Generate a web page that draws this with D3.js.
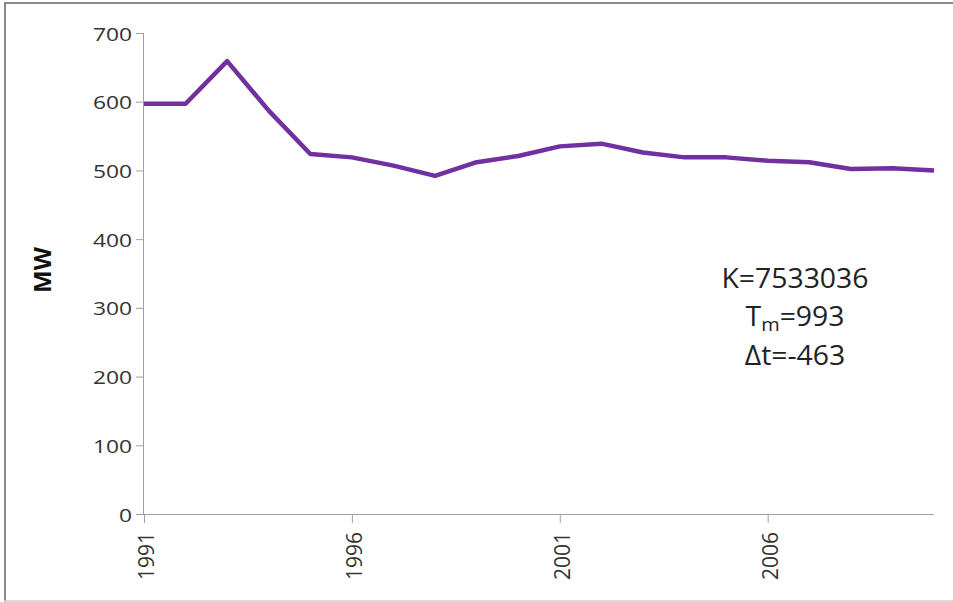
<!DOCTYPE html>
<html><head><meta charset="utf-8">
<script src="https://cdn.jsdelivr.net/npm/d3@7"></script>
<style>
html,body{margin:0;padding:0;background:#fff;}
svg{display:block;}
</style></head>
<body>
<svg id="c" width="953" height="602"></svg>
<script>
const years = [1991,1992,1993,1994,1995,1996,1997,1998,1999,2000,2001,2002,2003,2004,2005,2006,2007,2008,2009,2010];
const values = [597,597,659,587,524,519,507,492,512,521,535,539,526,519,519,514,512,502,503,500];
const yTicks = [0,100,200,300,400,500,600,700];
const xTicks = [1991,1996,2001,2006];
const notes = ["K=7533036","T_m=993","Δt=-463"];
const yLabel = "MW";

const FONT = "'Open Sans', Lato, sans-serif";
const svg = d3.select("#c").attr("font-family", FONT);
const mLeft = 144, mRight = 934, mTop = 33, mBottom = 514;

// frame
svg.append("line").attr("x1",4).attr("x2",953).attr("y1",3).attr("y2",3).attr("stroke","#8a8a8a").attr("stroke-width",2);
svg.append("line").attr("x1",5).attr("x2",5).attr("y1",3).attr("y2",602).attr("stroke","#8a8a8a").attr("stroke-width",2);
svg.append("line").attr("x1",4).attr("x2",953).attr("y1",601).attr("y2",601).attr("stroke","#d0d0d0").attr("stroke-width",1.5);

const x = d3.scaleLinear().domain([1991,2010]).range([mLeft,mRight]);
const y = d3.scaleLinear().domain([0,700]).range([mBottom,mTop]);

const yAxis = svg.append("g").attr("transform",`translate(${mLeft},0)`)
  .call(d3.axisLeft(y).tickValues(yTicks).tickSize(8).tickFormat(d3.format("d")));
yAxis.attr("font-family", FONT);
yAxis.select(".domain").attr("stroke","#a0a0a0").attr("d",`M-0.5,${mTop}V${mBottom}`);
yAxis.selectAll(".tick line").attr("stroke","#a0a0a0");
yAxis.selectAll("text").attr("font-size",19).attr("fill","#333")
  .attr("x",0).attr("dy","0.37em").attr("text-anchor","end")
  .attr("transform","translate(-12,0) scale(1.2,1)");

const xAxis = svg.append("g").attr("transform",`translate(0,${mBottom})`)
  .call(d3.axisBottom(x).tickValues(xTicks).tickSize(9).tickFormat(d3.format("d")));
xAxis.attr("font-family", FONT);
xAxis.select(".domain").attr("stroke","#a0a0a0").attr("d",`M${mLeft},0.5H${mRight}`);
xAxis.selectAll(".tick line").attr("stroke","#a0a0a0");
xAxis.selectAll("text").attr("font-size",21).attr("fill","#333")
  .attr("transform","translate(2,0) rotate(-90)").attr("text-anchor","end")
  .attr("dy","0.36em").attr("x",-18).attr("y",0);

svg.append("text").attr("transform","translate(42,270) rotate(-90)").attr("text-anchor","middle")
  .attr("dy","0.36em").attr("font-size",24).attr("font-weight","bold").attr("fill","#111").text(yLabel);

const line = d3.line().x((d,i)=>x(years[i])).y(d=>y(d));
svg.append("path").datum(values).attr("d",line).attr("fill","none")
  .attr("stroke","#7030A0").attr("stroke-width",4.5).attr("stroke-linejoin","round");

const cx = 795;
const ny = [288,326,365];
notes.forEach((n,i)=>{
  const t = svg.append("text").attr("x",0).attr("y",0)
    .attr("transform",`translate(${cx},${ny[i]}) scale(1.05,1)`)
    .attr("text-anchor","middle").attr("font-size",27).attr("fill","#222");
  if(n.includes("_")){
    const [a,rest] = n.split("_");
    const sub = rest.charAt(0), tail = rest.slice(1);
    t.append("tspan").text(a);
    t.append("tspan").attr("font-size",19).attr("dy","0.25em").text(sub);
    t.append("tspan").attr("dy","-0.18em").text(tail);
  } else t.text(n);
});
</script>
</body></html>
